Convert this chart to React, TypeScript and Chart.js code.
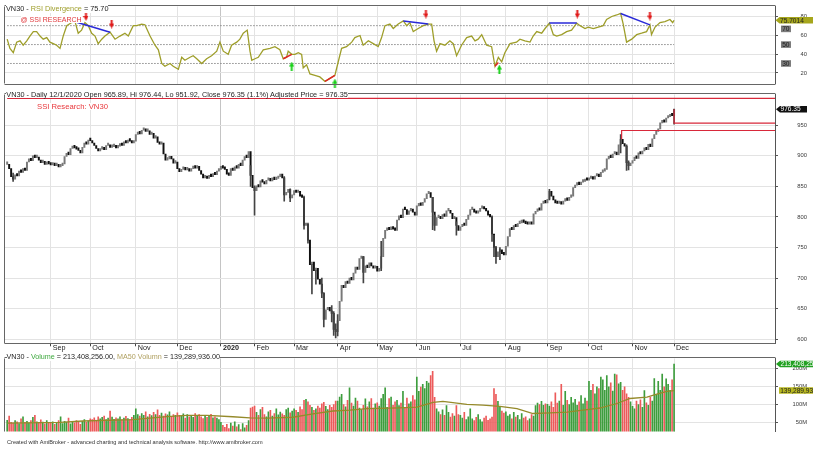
import React, { useEffect, useRef } from 'react';
import { Chart, registerables } from 'chart.js';

Chart.register(...registerables);

const FONT = '"Liberation Sans", Arial, Helvetica, sans-serif';

// ---------- calendar (trading days per month, Aug 2019 .. Dec 2020)
const MONTH_NAMES = ['Aug', 'Sep', 'Oct', 'Nov', 'Dec', '2020', 'Feb', 'Mar', 'Apr', 'May', 'Jun', 'Jul', 'Aug', 'Sep', 'Oct', 'Nov', 'Dec'];
const MONTH_DAYS = [22, 20, 23, 21, 22, 17, 20, 22, 20, 20, 22, 23, 21, 21, 22, 21, 1];

// ---------- daily closes (VN30)
const CLOSE = [
  // Aug 2019
  886, 879, 866, 862, 869, 867, 875, 873, 879, 876, 890, 895, 892, 900, 897, 898, 893, 889, 891, 886, 889, 887,
  // Sep
  885, 888, 884, 886, 882, 884, 887, 899, 904, 902, 912, 916, 913, 911, 909, 905, 914, 921, 919, 926,
  // Oct
  925, 921, 917, 912, 908, 911, 913, 910, 917, 918, 914, 915, 917, 913, 916, 919, 917, 923, 921, 926, 924, 921, 924,
  // Nov
  935, 938, 936, 942, 943, 940, 941, 935, 937, 929, 931, 922, 919, 921, 903, 893, 895, 899, 895, 888, 890,
  // Dec
  879, 874, 878, 881, 877, 879, 875, 879, 882, 880, 883, 876, 870, 864, 866, 863, 868, 866, 871, 869, 875, 878,
  // Jan 2020
  883, 880, 878, 870, 868, 879, 876, 882, 880, 886, 884, 893, 899, 897, 907, 868, 848,
  // Feb
  843, 851, 849, 859, 857, 854, 860, 862, 859, 864, 861, 863, 866, 870, 864, 836, 840, 845, 831, 836,
  // Mar
  843, 840, 842, 834, 832, 786, 788, 762, 722, 726, 712, 716, 698, 690, 675, 632, 648, 652, 646, 642, 616, 612,
  // Apr
  630, 662, 688, 684, 694, 691, 700, 697, 708, 718, 714, 732, 735, 709, 720, 717, 725, 720, 716, 719,
  // May
  711, 716, 735, 765, 778, 782, 779, 784, 780, 778, 795, 802, 799, 813, 812, 804, 810, 813, 808, 803,
  // Jun
  818, 822, 819, 824, 830, 838, 840, 832, 808, 786, 799, 801, 797, 804, 801, 810, 811, 806, 797, 799, 786, 778,
  // Jul
  784, 788, 786, 796, 803, 812, 813, 808, 806, 809, 814, 816, 813, 810, 803, 800, 772, 750, 735, 743, 746, 740, 738,
  // Aug
  752, 768, 781, 779, 786, 784, 789, 790, 795, 791, 789, 788, 790, 788, 805, 809, 813, 811, 822, 825, 823,
  // Sep
  829, 842, 834, 828, 823, 822, 824, 821, 826, 829, 827, 832, 834, 848, 852, 855, 853, 857, 858, 862, 860,
  // Oct
  863, 865, 862, 867, 869, 866, 873, 875, 878, 895, 899, 897, 903, 905, 902, 918, 927, 920, 916, 889, 884, 888,
  // Nov
  892, 898, 896, 905, 903, 908, 913, 910, 919, 915, 928, 935, 940, 944, 954, 957, 955, 962, 964, 967, 965.7,
  // Dec 1
  976.35,
];
const LAST_OHLC = [965.89, 976.44, 951.92, 976.35];

// notable intraday ranges [bar, low, high]
const WICKS = [
  [3, 858, 872], [123, 850, 884], [125, 803, 851], [140, 826, 866], [143, 825, 846], [150, 780, 834],
  [152, 757, 790], [154, 674, 722], [156, 690, 712], [159, 668, 700], [160, 620, 676], [164, 628, 655],
  [165, 606, 645], [166, 602, 625], [167, 605, 640], [180, 692, 735], [189, 712, 760], [215, 779, 832],
  [216, 778, 803], [227, 770, 792], [245, 760, 802], [246, 735, 770], [247, 724, 752], [249, 730, 750],
  [274, 828, 845], [310, 905, 935], [313, 876, 918], [314, 877, 892], [337, 951.92, 976.44],
];

// horizontal study lines on price pane [bar, price] points
const LEVEL_LINES = [
  [[0, 994], [388, 994]],
  [[310.5, 927], [310.5, 941.5], [388, 941.5]],
  [[337, 976.35], [337, 953.7], [388, 953.7]],
];

// ---------- volume (millions)
const VOLUME = [
  56, 68, 50, 48, 55, 52, 47, 60, 66, 50, 53, 48, 55, 64, 70, 52, 49, 57, 51, 46, 55, 50,
  48, 52, 45, 50, 55, 66, 47, 53, 50, 62, 46, 52, 49, 55, 51, 45, 53, 58, 50, 54,
  60, 58, 63, 56, 66, 60, 64, 68, 58, 62, 82, 65, 59, 63, 60, 66, 57, 62, 67, 61, 58, 64, 70,
  88, 72, 68, 75, 70, 80, 66, 73, 69, 78, 72, 85, 70, 76, 68, 74, 71, 80, 65, 72, 70,
  77, 70, 68, 74, 62, 72, 66, 70, 64, 75, 69, 72, 66, 61, 70, 64, 68, 73, 63, 66, 62, 58,
  50, 42, 36, 45, 33, 48, 40, 52, 38, 44, 30, 47, 35, 42, 55, 90, 93,
  96, 78, 70, 86, 92, 72, 66, 80, 84, 68, 75, 88, 71, 79, 74, 70, 86, 90, 77, 82,
  88, 84, 78, 94, 86, 112, 115, 108, 98, 92, 84, 88, 96, 90, 102, 106, 95, 86, 98, 92, 100, 110,
  110, 121, 129, 100, 94, 112, 147, 104, 96, 118, 110, 90, 86, 98, 116, 94, 108, 117, 90, 102,
  105, 96, 117, 129, 147, 92, 117, 121, 98, 108, 112, 97, 104, 137, 92, 118, 102, 108, 125, 113,
  177, 137, 149, 157, 145, 165, 160, 181, 193, 120, 88, 80, 72, 85, 70, 97, 78, 65, 75, 68, 97, 72,
  70, 62, 78, 58, 66, 88, 60, 55, 64, 72, 58, 52, 62, 68, 56, 60, 65, 145, 129, 109, 95, 82, 76,
  80, 68, 72, 60, 78, 65, 70, 58, 75, 62, 66, 55, 60, 72, 68, 97, 104, 100, 109, 98, 102,
  101, 96, 108, 92, 133, 104, 110, 157, 98, 137, 112, 100, 120, 105, 115, 98, 108, 125, 102, 118, 110,
  165, 140, 157, 130, 150, 145, 177, 169, 140, 181, 150, 161, 138, 185, 183, 158, 162, 140, 150, 130, 120, 108,
  95, 88, 110, 100, 113, 92, 139, 105, 98, 120, 110, 173, 128, 165, 140, 185, 150, 172, 157, 140, 169,
  213.408256,
];

// MA50 of volume, read points [bar, millions]
const MA50 = [
  [0, 48], [26.7, 50], [38.3, 54], [63.6, 58], [80.7, 66], [90.8, 70], [101, 70], [114, 66], [122.7, 63],
  [131.3, 62], [144.4, 64.5], [154.5, 74], [164.6, 82], [173.2, 84.6], [181.8, 88.7], [198.5, 91], [207.1, 92.8],
  [215.2, 106], [220.2, 108.8], [232.3, 100.8], [240.4, 98.4], [249, 95.2], [257.6, 88.7], [265.7, 75],
  [274.3, 76.6], [282.9, 79], [291, 84.6], [299.5, 90.4], [308.1, 103], [314.7, 117], [323.3, 121],
  [328.3, 129], [333.4, 137], [337, 139.289936],
];

// ---------- RSI, read points [bar, value]
const RSI = [
  [0, 55.7], [1.4, 46], [3.1, 41.4], [4.8, 52.6], [6.5, 54], [8.1, 49.3], [9.9, 54], [11.5, 59], [13.2, 63.7],
  [14.9, 63.7], [16.6, 59], [18.2, 55.7], [20, 57.4], [21.6, 52.6], [23.3, 51], [25, 49.3], [26.7, 46],
  [28.3, 59], [30.1, 70], [32.6, 73.3], [34.3, 74.2], [35.9, 62], [37.6, 65.3], [39.3, 73.3], [41, 70],
  [42.7, 62], [44.4, 59], [46, 51], [47.8, 55.7], [49.4, 59], [52, 63.1], [54.5, 55.7], [57, 59], [59.5, 62],
  [61.2, 59], [63.7, 70], [65.4, 70], [68, 71.7], [69.6, 71], [72.2, 59], [74.7, 49.3], [76.4, 44.5],
  [78.1, 30], [79.7, 27], [82.3, 30], [83.9, 27], [86.5, 23.8], [88.2, 36.6], [89.8, 33.4], [92.4, 36.6],
  [94, 38.2], [95.8, 35], [98.3, 30], [100.8, 35], [103.3, 38.2], [105.9, 43], [107.5, 52.6], [109.2, 43],
  [111.7, 39.7], [113.4, 49.3], [116, 52.6], [117.6, 55.7], [119.3, 62], [121.3, 65.3], [122.7, 43],
  [123.6, 33.4], [125.2, 35], [126.9, 36.6], [129.4, 44.5], [132.8, 46], [135.3, 47.8], [137.8, 44.5],
  [139.5, 35], [141.2, 36.6], [142, 43], [143.8, 39.7], [145.4, 39.7], [147.1, 41.4], [148.8, 39.7],
  [149.6, 25.4], [151.3, 28.6], [153, 19], [155.5, 17.4], [158, 15.8], [160.6, 11], [163.1, 14.2],
  [165.6, 17.4], [167.3, 31.8], [169, 46], [171.5, 47.8], [174.1, 52.6], [175.7, 57.4], [178.3, 59.6],
  [179.9, 49.3], [182.5, 54], [185, 51], [187.5, 47.8], [189.2, 57.4], [190.9, 70], [193.4, 71.7],
  [195.1, 67], [197.6, 71.7], [200.2, 75], [201.9, 70], [203.5, 73.3], [205.2, 63.7], [207.7, 67],
  [210.3, 70], [212.8, 71.7], [214.5, 71.7], [215.7, 54], [217, 43], [218.7, 51], [221.2, 49.3],
  [223.7, 54], [225.4, 51], [227.1, 38.2], [229.6, 49.3], [232.2, 57.4], [234.7, 59], [236.4, 54],
  [238, 55.7], [239.8, 60.5], [242.3, 49.3], [244.8, 47.8], [246.5, 27], [248.2, 36.6], [249.9, 31.8],
  [251.5, 41.4], [254.1, 51], [257.4, 52.6], [259.1, 55.7], [261.6, 54], [264.2, 52.6], [265.8, 59],
  [267.6, 63.7], [270.1, 62], [271.8, 67], [274, 72.7], [276, 60.5], [277.7, 59], [280.2, 60.5],
  [282.7, 63.7], [285.2, 65.3], [287.8, 72.7], [289.5, 70], [292, 67], [293.6, 68.5], [296.2, 67],
  [298.7, 68.5], [301.2, 70], [302.9, 76.5], [305.5, 79.7], [308, 81.3], [310, 82.9], [311.3, 71.7],
  [313, 52.6], [315.6, 55.7], [318.1, 60.5], [320.6, 62], [323.1, 63.7], [324.8, 70.8], [325.6, 60.5],
  [327.4, 68.5], [329.9, 73.3], [332.4, 74.3], [334.9, 76.5], [336.3, 73.3], [337, 75.7014],
];
const RSI_LEVELS = [70, 50, 30];
const BEAR_DIV = [
  [[34.3, 74.2], [52, 63.1]],
  [[200.2, 75], [212.8, 71.7]],
  [[274, 72.7], [287.8, 72.7]],
  [[310, 82.9], [324.8, 70.8]],
];
const BULL_DIV = [
  [[139.5, 35], [143.8, 39.7]],
  [[160.6, 11], [165.6, 17.4]],
  [[246.5, 27], [248.2, 31]],
];
const SELL = [[39.8, 79.7], [52.8, 71.7], [211.6, 82.3], [288.1, 82.3], [324.8, 80.2]];
const BUY = [[143.8, 27.3], [165.6, 9.3], [248.7, 24.1]];

const PRICE_TICKS = [600, 650, 700, 750, 800, 850, 900, 950];
const RSI_TICKS = [20, 40, 60, 80];
const VOL_TICKS = [50, 100, 150, 200];

// ---------- styling
const X_MIN = -1.1;
const X_MAX = 388;
const OLIVE = '#9e9e2a';
const GRID = '#e3e3e3';
const UP_VOL = '#3d9d3d';
const DN_VOL = '#ec5a5a';

function monthTicks() {
  const out: { value: number; label: string }[] = [];
  let idx = 0;
  MONTH_DAYS.forEach((d, k) => {
    if (k > 0) out.push({ value: idx, label: MONTH_NAMES[k] });
    idx += d;
  });
  return out;
}

function xScale(showLabels: boolean): any {
  const ticks = monthTicks();
  const lbl = new Map(ticks.map((t) => [t.value, t.label]));
  return {
    type: 'linear',
    min: X_MIN,
    max: X_MAX,
    offset: false,
    afterBuildTicks: (s: any) => {
      s.ticks = ticks.map((t) => ({ value: t.value }));
    },
    afterFit: (s: any) => {
      s.height = showLabels ? 8.7 : 0;
    },
    grid: {
      offset: false,
      color: (c: any) => (c.tick && lbl.get(c.tick.value) === '2020' ? '#c4c4c4' : GRID),
      lineWidth: 1,
      drawTicks: showLabels,
      tickLength: 3,
      tickColor: '#444',
    },
    border: { display: false },
    ticks: {
      display: showLabels,
      autoSkip: false,
      maxRotation: 0,
      minRotation: 0,
      align: 'start',
      padding: -3,
      color: '#222',
      font: (c: any) => ({
        family: FONT,
        size: 7.2,
        lineHeight: 1.2,
        weight: c.tick && lbl.get(c.tick.value) === '2020' ? 'bold' : 'normal',
      }),
      callback: (v: number) => ' ' + (lbl.get(v) ?? ''),
    },
  };
}

function yScale(min: number, max: number, ticks: number[], fmt: (v: number) => string): any {
  return {
    position: 'right',
    min,
    max,
    afterBuildTicks: (s: any) => {
      s.ticks = ticks.map((v) => ({ value: v }));
    },
    afterFit: (s: any) => {
      s.width = 32;
    },
    grid: { color: GRID, drawTicks: true, tickLength: 3, tickColor: '#555' },
    border: { display: true, color: '#555' },
    ticks: { crossAlign: 'far', color: '#3a3a3a', font: { family: FONT, size: 5.8 }, callback: fmt },
  };
}

function framePlugin(top: boolean, bottom: boolean) {
  return {
    id: 'frame',
    afterDraw(chart: any) {
      const { ctx, chartArea: a } = chart;
      ctx.save();
      ctx.strokeStyle = '#666';
      ctx.lineWidth = 1;
      ctx.beginPath();
      const l = Math.round(a.left) - 0.5;
      const r = Math.round(a.right) + 0.5;
      ctx.moveTo(l, a.top);
      ctx.lineTo(l, a.bottom);
      if (top) {
        ctx.moveTo(l, Math.round(a.top) - 0.5);
        ctx.lineTo(r, Math.round(a.top) - 0.5);
      }
      if (bottom) {
        ctx.moveTo(l, Math.round(a.bottom) + 0.5);
        ctx.lineTo(r, Math.round(a.bottom) + 0.5);
      }
      ctx.stroke();
      ctx.restore();
    },
  };
}

type Tag = { value: number; text: string; bg: string; fg: string; x0: number; x1: number; arrow: boolean };

function tagPlugin(tags: Tag[]) {
  return {
    id: 'tags',
    afterDraw(chart: any) {
      const ctx = chart.ctx;
      const ys = chart.scales.y;
      const h = 6.6;
      ctx.save();
      let prevBottom = -Infinity;
      const sorted = [...tags].sort((a, b) => b.value - a.value);
      for (const t of sorted) {
        let cy = ys.getPixelForValue(t.value);
        if (cy - h / 2 < prevBottom + 2) cy = prevBottom + 2 + h / 2;
        prevBottom = cy + h / 2;
        ctx.fillStyle = t.bg;
        ctx.beginPath();
        if (t.arrow) {
          ctx.moveTo(t.x0, cy);
          ctx.lineTo(t.x0 + 4, cy - h / 2);
        } else ctx.moveTo(t.x0, cy - h / 2);
        ctx.lineTo(t.x1, cy - h / 2);
        ctx.lineTo(t.x1, cy + h / 2);
        if (t.arrow) ctx.lineTo(t.x0 + 4, cy + h / 2);
        else ctx.lineTo(t.x0, cy + h / 2);
        ctx.closePath();
        ctx.fill();
        ctx.fillStyle = t.fg;
        ctx.font = `6.6px ${FONT}`;
        ctx.textBaseline = 'middle';
        ctx.textAlign = 'left';
        ctx.fillText(t.text, t.x0 + (t.arrow ? 4.5 : 1.2), cy + 0.4);
      }
      ctx.restore();
    },
  };
}

function arrowImage(color: string, down: boolean) {
  const c = document.createElement('canvas');
  c.width = 5;
  c.height = 9;
  const g = c.getContext('2d')!;
  g.fillStyle = color;
  g.beginPath();
  if (down) {
    g.fillRect(1.5, 0, 2, 5);
    g.moveTo(0, 4);
    g.lineTo(5, 4);
    g.lineTo(2.5, 9);
  } else {
    g.fillRect(1.5, 4, 2, 5);
    g.moveTo(0, 5);
    g.lineTo(5, 5);
    g.lineTo(2.5, 0);
  }
  g.closePath();
  g.fill();
  return c;
}

const pts = (arr: number[][]) => arr.map(([x, y]) => ({ x, y }));
const fmtInt = (v: number) => Math.round(v * 1e6).toLocaleString('en-US');

const baseOptions = (padding: any) => ({
  responsive: false,
  maintainAspectRatio: false,
  animation: false as const,
  devicePixelRatio: 1,
  events: [] as any[],
  layout: { padding },
  plugins: { legend: { display: false }, tooltip: { enabled: false } },
});

export default function App() {
  const rsiRef = useRef<HTMLCanvasElement>(null);
  const priceRef = useRef<HTMLCanvasElement>(null);
  const volRef = useRef<HTMLCanvasElement>(null);

  useEffect(() => {
    Chart.defaults.font.family = FONT;
    const charts: Chart[] = [];
    const lastRsi = RSI[RSI.length - 1][1];

    // ---------- RSI pane
    charts.push(
      new Chart(rsiRef.current!, {
        type: 'line',
        data: {
          datasets: [
            {
              data: pts(SELL),
              showLine: false,
              pointStyle: arrowImage('#e01818', true) as any,
              pointRadius: 4,
              clip: false as any,
            },
            {
              data: pts(BUY),
              showLine: false,
              pointStyle: arrowImage('#18d018', false) as any,
              pointRadius: 4,
              clip: false as any,
            },
            ...BEAR_DIV.map((seg) => ({
              data: pts(seg),
              borderColor: '#2a2ad8',
              borderWidth: 1.5,
              pointRadius: 0,
            })),
            ...BULL_DIV.map((seg) => ({
              data: pts(seg),
              borderColor: '#e02424',
              borderWidth: 1.5,
              pointRadius: 0,
            })),
            {
              data: pts(RSI),
              borderColor: OLIVE,
              borderWidth: 1.3,
              pointRadius: 0,
              tension: 0,
            },
            ...RSI_LEVELS.map((lv) => ({
              data: [
                { x: 0, y: lv },
                { x: CLOSE.length - 1, y: lv },
              ],
              borderColor: '#8a8a8a',
              borderWidth: 1,
              borderDash: [1.5, 1.5],
              pointRadius: 0,
            })),
          ] as any,
        },
        options: {
          ...baseOptions({ left: 5, right: 6, top: 4, bottom: 1 }),
          scales: {
            x: xScale(false),
            y: yScale(8.8, 90.3, RSI_TICKS, (v) => String(v)),
          },
        } as any,
        plugins: [
          framePlugin(true, true),
          tagPlugin([
            { value: lastRsi, text: lastRsi.toFixed(4), bg: '#a6a61c', fg: '#222', x0: 775.5, x1: 813, arrow: true },
            ...RSI_LEVELS.map((lv) => ({
              value: lv,
              text: String(lv),
              bg: '#7c7c7c',
              fg: '#1c1c1c',
              x0: 781,
              x1: 791,
              arrow: false,
            })),
          ]),
        ],
      })
    );

    // ---------- price pane
    const bodies = CLOSE.map((c, i) => ({ x: i, y: [i ? CLOSE[i - 1] : c, c] }));
    const bodyColors = CLOSE.map((c, i) => (i && c < CLOSE[i - 1] ? '#101010' : '#787878'));
    charts.push(
      new Chart(priceRef.current!, {
        type: 'bar',
        data: {
          datasets: [
            ...LEVEL_LINES.map((l) => ({
              type: 'line',
              data: pts(l),
              borderColor: '#d8283a',
              borderWidth: 1.2,
              pointRadius: 0,
            })),
            {
              type: 'bar',
              data: WICKS.map(([i, lo, hi]) => ({ x: i, y: [lo, hi] })),
              backgroundColor: '#444',
              barThickness: 1,
              grouped: false,
            },
            {
              type: 'bar',
              data: bodies,
              backgroundColor: bodyColors,
              barThickness: 1.3,
              minBarLength: 2.5,
              grouped: false,
            },
          ] as any,
        },
        options: {
          ...baseOptions({ left: 5, right: 6, top: 2.7, bottom: 0 }),
          scales: {
            x: xScale(true),
            y: yScale(593.1, 1000.5, PRICE_TICKS, (v) => String(v)),
          },
        } as any,
        plugins: [
          framePlugin(true, true),
          tagPlugin([
            { value: LAST_OHLC[3], text: LAST_OHLC[3].toFixed(2), bg: '#111', fg: '#fff', x0: 776, x1: 807, arrow: true },
          ]),
        ],
      })
    );

    // ---------- volume pane
    const volColors = VOLUME.map((_, i) => (i === 0 || CLOSE[i] >= CLOSE[i - 1] ? UP_VOL : DN_VOL));
    const lastVol = VOLUME[VOLUME.length - 1];
    const lastMa = MA50[MA50.length - 1][1];
    charts.push(
      new Chart(volRef.current!, {
        type: 'bar',
        data: {
          datasets: [
            {
              type: 'line',
              data: pts(MA50),
              borderColor: '#958a2a',
              borderWidth: 1.3,
              pointRadius: 0,
            },
            {
              type: 'bar',
              data: VOLUME.map((v, i) => ({ x: i, y: v })),
              backgroundColor: volColors,
              barThickness: 1,
              grouped: false,
            },
          ] as any,
        },
        options: {
          ...baseOptions({ left: 5, right: 6, top: 0, bottom: 1.5 }),
          scales: {
            x: xScale(false),
            y: yScale(24.6, 229, VOL_TICKS, (v) => `${v}M`),
          },
        } as any,
        plugins: [
          framePlugin(true, false),
          tagPlugin([
            { value: lastVol, text: fmtInt(lastVol), bg: '#20a020', fg: '#fff', x0: 776, x1: 820, arrow: true },
            { value: lastMa, text: fmtInt(lastMa), bg: '#b8b820', fg: '#222', x0: 779, x1: 820, arrow: false },
          ]),
        ],
      })
    );

    return () => charts.forEach((c) => c.destroy());
  }, []);

  const lastRsi = RSI[RSI.length - 1][1];
  const lastVol = VOLUME[VOLUME.length - 1];
  const lastMa = MA50[MA50.length - 1][1];
  const prevClose = CLOSE[CLOSE.length - 2];
  const pct = ((LAST_OHLC[3] / prevClose - 1) * 100).toFixed(1);

  const txt = (extra: any): React.CSSProperties => ({
    position: 'absolute',
    whiteSpace: 'nowrap',
    fontFamily: FONT,
    lineHeight: 1,
    color: '#1e1e1e',
    ...extra,
  });

  return (
    <div style={{ position: 'fixed', left: 0, top: 0, width: 813, height: 450, background: '#fff', overflow: 'hidden' }}>
      <canvas ref={rsiRef} width={813} height={90} style={{ position: 'absolute', left: 0, top: 0, width: 813, height: 90 }} />
      <canvas ref={priceRef} width={813} height={264} style={{ position: 'absolute', left: 0, top: 88, width: 813, height: 264 }} />
      <canvas ref={volRef} width={813} height={86} style={{ position: 'absolute', left: 0, top: 352, width: 813, height: 86 }} />

      <div style={txt({ left: 6, top: 5.4, fontSize: 7.3, background: '#fff' })}>
        VN30 - <span style={{ color: OLIVE }}>RSI Divergence</span> = {lastRsi.toFixed(2)}
      </div>
      <div style={txt({ left: 20.5, top: 16.3, fontSize: 7, color: '#e0383c', background: '#fff' })}>@ SSI RESEARCH</div>

      <div style={txt({ left: 6.3, top: 91.2, fontSize: 7.3, background: '#fff' })}>
        VN30 - Daily 12/1/2020 Open {LAST_OHLC[0].toFixed(2)}, Hi {LAST_OHLC[1].toFixed(2)}, Lo {LAST_OHLC[2].toFixed(2)}, Close{' '}
        {LAST_OHLC[3].toFixed(2)} ({pct}%) Adjusted Price = {LAST_OHLC[3].toFixed(2)}
      </div>
      <div style={txt({ left: 37, top: 102.5, fontSize: 7.7, color: '#e8383c', background: '#fff' })}>SSI Research: VN30</div>

      <div style={txt({ left: 6.5, top: 353.3, fontSize: 7.2, background: '#fff' })}>
        VN30 - <span style={{ color: '#3da83d' }}>Volume</span> = {fmtInt(lastVol)}.00,{' '}
        <span style={{ color: '#b0a060' }}>MA50 Volumn</span> = {fmtInt(lastMa)}.00
      </div>

      <div style={txt({ left: 7, top: 440.4, fontSize: 5.6, color: '#333' })}>
        Created with AmiBroker - advanced charting and technical analysis software. http://www.amibroker.com
      </div>
    </div>
  );
}
